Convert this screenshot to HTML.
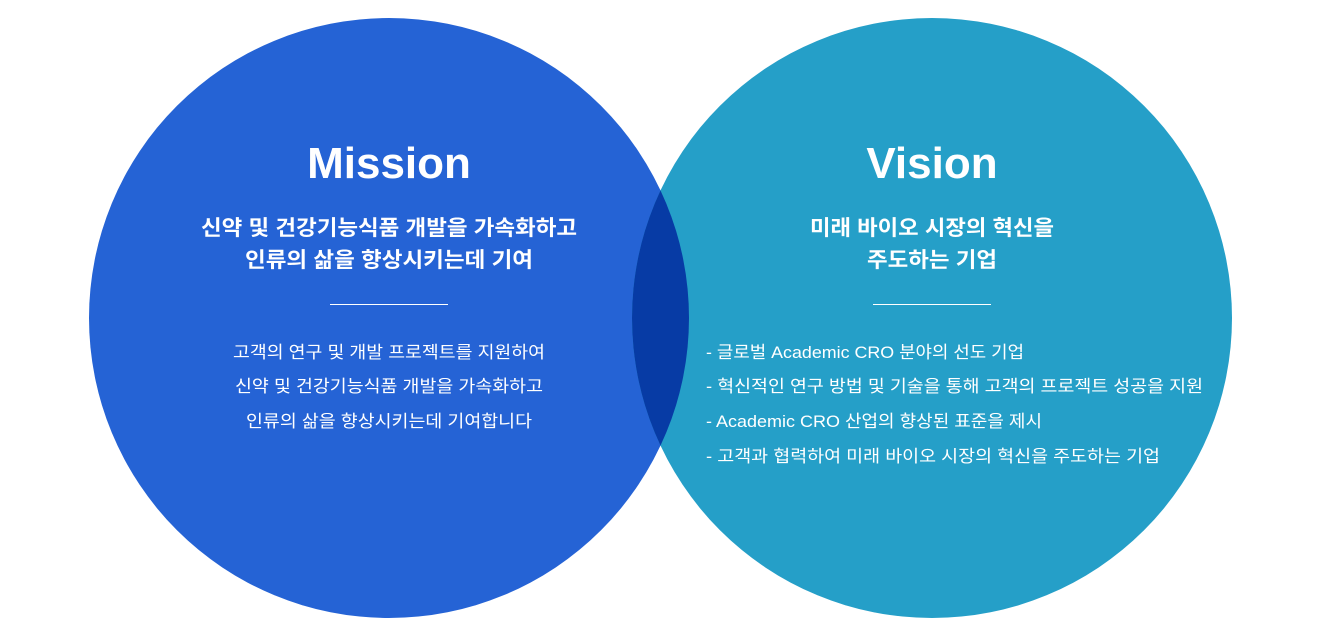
<!DOCTYPE html>
<html><head><meta charset="utf-8"><style>
html,body{margin:0;padding:0;background:#fff;width:1320px;height:639px;overflow:hidden}
svg text{font-family:"Liberation Sans","Noto Sans CJK KR",sans-serif;fill:#fff}
</style></head><body>
<svg width="1320" height="639" viewBox="0 0 1320 639" xmlns="http://www.w3.org/2000/svg">
<defs><clipPath id="c"><circle cx="389" cy="318" r="300"/></clipPath></defs>
<circle cx="389" cy="318" r="300" fill="#2563d5"/>
<circle cx="932" cy="318" r="300" fill="#259fc8"/>
<circle cx="932" cy="318" r="300" fill="#073ba5" clip-path="url(#c)"/>
<text x="389" y="178" font-size="44" font-weight="bold" text-anchor="middle">Mission</text>
<text x="389" y="235" font-size="21" font-weight="bold" text-anchor="middle" textLength="376" lengthAdjust="spacingAndGlyphs">신약 및 건강기능식품 개발을 가속화하고</text>
<text x="389" y="267" font-size="21" font-weight="bold" text-anchor="middle" textLength="288" lengthAdjust="spacingAndGlyphs">인류의 삶을 향상시키는데 기여</text>
<rect x="330" y="304" width="118" height="1" fill="#fff"/>
<text x="389" y="358" font-size="17" text-anchor="middle" textLength="312" lengthAdjust="spacingAndGlyphs">고객의 연구 및 개발 프로젝트를 지원하여</text>
<text x="389" y="392" font-size="17" text-anchor="middle" textLength="308" lengthAdjust="spacingAndGlyphs">신약 및 건강기능식품 개발을 가속화하고</text>
<text x="389" y="427" font-size="17" text-anchor="middle" textLength="286" lengthAdjust="spacingAndGlyphs">인류의 삶을 향상시키는데 기여합니다</text>
<text x="932" y="178" font-size="44" font-weight="bold" text-anchor="middle">Vision</text>
<text x="932" y="235" font-size="21" font-weight="bold" text-anchor="middle" textLength="244" lengthAdjust="spacingAndGlyphs">미래 바이오 시장의 혁신을</text>
<text x="932" y="267" font-size="21" font-weight="bold" text-anchor="middle" textLength="130" lengthAdjust="spacingAndGlyphs">주도하는 기업</text>
<rect x="873" y="304" width="118" height="1" fill="#fff"/>
<text x="706" y="358" font-size="17" textLength="318" lengthAdjust="spacingAndGlyphs">- 글로벌 Academic CRO 분야의 선도 기업</text>
<text x="706" y="392" font-size="17" textLength="497" lengthAdjust="spacingAndGlyphs">- 혁신적인 연구 방법 및 기술을 통해 고객의 프로젝트 성공을 지원</text>
<text x="706" y="427" font-size="17" textLength="336" lengthAdjust="spacingAndGlyphs">- Academic CRO 산업의 향상된 표준을 제시</text>
<text x="706" y="462" font-size="17" textLength="454" lengthAdjust="spacingAndGlyphs">- 고객과 협력하여 미래 바이오 시장의 혁신을 주도하는 기업</text>
</svg>
</body></html>
